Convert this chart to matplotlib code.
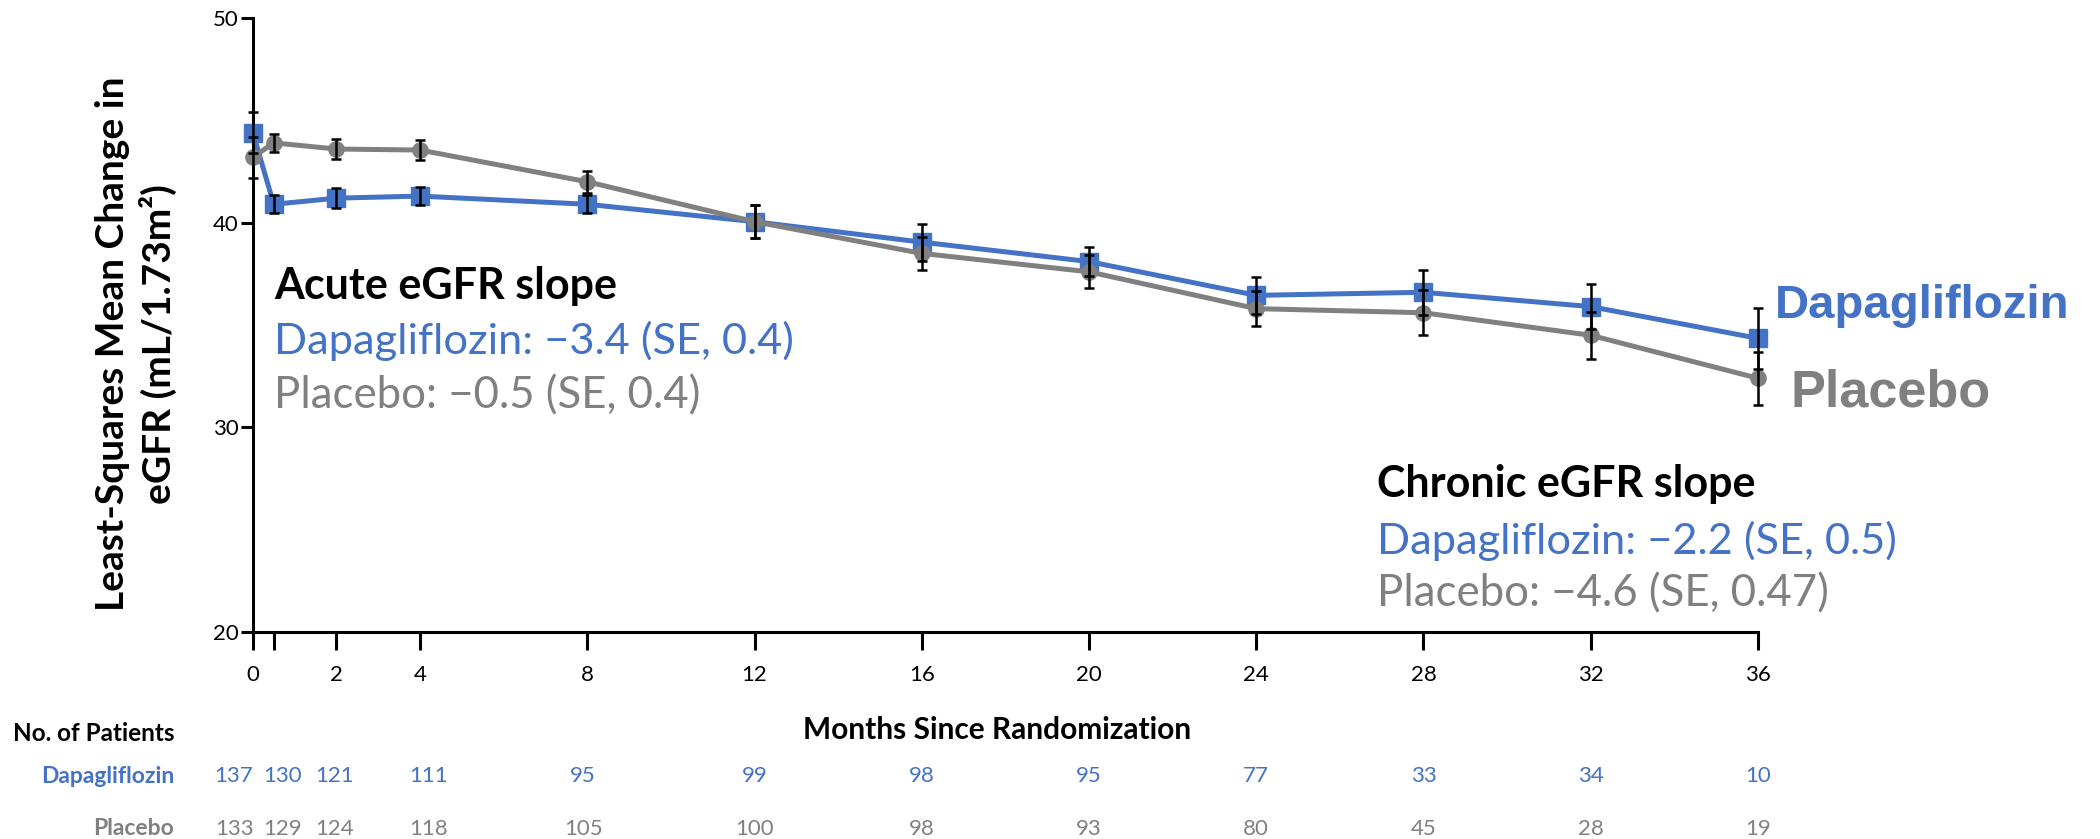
#plot_egfr_slope.py
import numpy as np
from matplotlib import pyplot as plt
from matplotlib import transforms

# Months since randomization (0.5 = 2 weeks)
months = [0, 0.5, 2, 4, 8, 12, 16, 20, 24, 28, 32, 36]

# LS mean eGFR
dapa = [44.4, 40.9, 41.2, 41.3, 40.9, 40.05, 39.05, 38.1, 36.45, 36.6, 35.9, 34.35]
dapa_se = [1.0, 0.45, 0.5, 0.45, 0.45, 0.8, 0.9, 0.7, 0.9, 1.1, 1.1, 1.5]
placebo = [43.2, 43.9, 43.6, 43.55, 42.0, 40.05, 38.5, 37.6, 35.8, 35.6, 34.5, 32.4]
placebo_se = [1.0, 0.45, 0.5, 0.5, 0.55, 0.8, 0.8, 0.8, 0.85, 1.1, 1.15, 1.3]

# number at risk table
dapa_n = [137, 130, 121, 111, 95, 99, 98, 95, 77, 33, 34, 10]
placebo_n = [133, 129, 124, 118, 105, 100, 98, 93, 80, 45, 28, 19]
table_x = [-0.45, 0.7, 1.95, 4.2, 7.9, 12, 16, 20, 24, 28, 32, 36]

xticks = [0, 0.5, 2, 4, 8, 12, 16, 20, 24, 28, 32, 36]
xticklabels = ['0', '', '2', '4', '8', '12', '16', '20', '24', '28', '32', '36']
yticks = [20, 30, 40, 50]

blue = '#4472C4'
grey = '#808080'

plt.rcParams['font.family'] = ['Lato', 'DejaVu Sans']

fig = plt.figure(figsize=(21, 8.39), dpi=100)
ax = fig.add_axes([0.1204, 0.2467, 0.7167, 0.7318])
renderer = fig.canvas.get_renderer()


# scale a text so its drawn size (pixels) matches the original slide (Calibri there)
def fit(t, px, dim='w'):
    bb = t.get_window_extent(renderer)
    size = bb.width if dim == 'w' else bb.height
    t.set_fontsize(t.get_fontsize() * px / size)
    return t.get_fontsize()


ax.plot(months, dapa, color=blue, lw=3.6, marker='s', ms=12.5, zorder=3, clip_on=False)
ax.plot(months, placebo, color=grey, lw=3.6, marker='o', ms=11, zorder=4, clip_on=False)
ax.errorbar(months, dapa, yerr=dapa_se, fmt='none', ecolor='black', elinewidth=1.8,
            capsize=3.5, capthick=1.8, zorder=5, clip_on=False)
ax.errorbar(months, placebo, yerr=placebo_se, fmt='none', ecolor='black', elinewidth=1.8,
            capsize=3.5, capthick=1.8, zorder=5, clip_on=False)

ax.set_xlim(0, 36)
ax.set_ylim(20, 50)
ax.set_xticks(xticks)
ax.set_xticklabels(xticklabels)
ax.set_yticks(yticks)
ax.spines['top'].set_visible(False)
ax.spines['right'].set_visible(False)
for s in ['left', 'bottom']:
    ax.spines[s].set_linewidth(2.2)
ax.tick_params(axis='x', length=13, width=2.2, labelsize=16, pad=11)
ax.tick_params(axis='y', length=9, width=2.2, labelsize=16, pad=1)

# y label placed by hand (sits above the axis middle in the original)
ylab = fig.text(0.0648, 0.59, 'Least-Squares Mean Change in\neGFR (mL/1.73m\u00b2)', fontsize=28,
                fontweight='bold', linespacing=1.3, rotation=90, ha='center', va='center',
                multialignment='center')
fit(ylab, 534, 'h')

# slope annotations
t1 = ax.text(26.89, 26.62, 'Chronic eGFR slope', fontsize=30, fontweight='bold', va='baseline')
t2 = ax.text(26.89, 23.82, 'Dapagliflozin: \u22122.2 (SE, 0.5)', fontsize=30, color=blue, va='baseline')
t3 = ax.text(26.89, 21.23, 'Placebo: \u22124.6 (SE, 0.47)', fontsize=30, color=grey, va='baseline')
s1 = fit(t1, 378)
s2 = fit(t2, 519)
s3 = fit(t3, 450)
ax.text(0.5, 36.27, 'Acute eGFR slope', fontsize=s1, fontweight='bold', va='baseline')
ax.text(0.5, 33.58, 'Dapagliflozin: \u22123.4 (SE, 0.4)', fontsize=s2, color=blue, va='baseline')
ax.text(0.5, 30.93, 'Placebo: \u22120.5 (SE, 0.4)', fontsize=s3, color=grey, va='baseline')

# series labels on the right
d = ax.text(36.41, 35.34, 'Dapagliflozin', fontsize=34, fontweight='bold', color=blue,
            va='baseline', family='Liberation Sans', clip_on=False)
p = ax.text(36.77, 31.03, 'Placebo', fontsize=37, fontweight='bold', color=grey,
            va='baseline', family='Liberation Sans', clip_on=False)
fit(d, 295)
fit(p, 200)

# x label and patient table
fig.text(0.475, 0.13, 'Months Since Randomization', fontsize=21.5, fontweight='bold',
         ha='center', va='center')
fig.text(0.006, 0.126, 'No. of Patients', fontsize=17.5, fontweight='bold', va='center')
fig.text(0.083, 0.075, 'Dapagliflozin', fontsize=16.5, fontweight='bold', color=blue,
         ha='right', va='center')
fig.text(0.083, 0.012, 'Placebo', fontsize=16.5, fontweight='bold', color=grey,
         ha='right', va='center')
trans = transforms.blended_transform_factory(ax.transData, fig.transFigure)
for x, n in zip(table_x, dapa_n):
    ax.text(x, 0.075, str(n), transform=trans, fontsize=16, color=blue,
            ha='center', va='center', clip_on=False)
for x, n in zip(table_x, placebo_n):
    ax.text(x, 0.012, str(n), transform=trans, fontsize=16, color=grey,
            ha='center', va='center', clip_on=False)

fig.savefig('out.png', dpi=100)
